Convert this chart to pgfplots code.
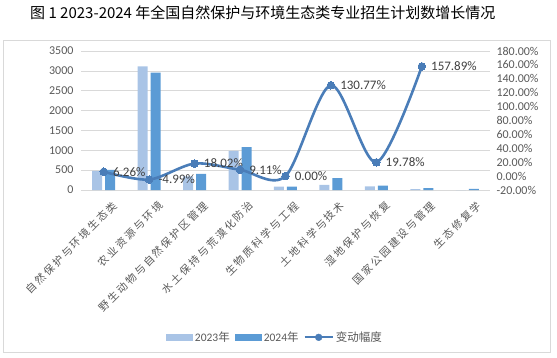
\documentclass[border=0pt]{standalone}
\usepackage{pgfplots}
\pgfplotsset{compat=1.18}
\usepackage{fontspec}
\setmainfont{Carlito}
\newfontfamily\cjk{Noto Sans CJK SC}
\newfontfamily\cjksp{Noto Sans CJK SC}[LetterSpace=20]
\definecolor{c23}{HTML}{A9C4E6}
\definecolor{c24}{HTML}{5B9BD5}
\definecolor{cl}{HTML}{4A7DB8}
\definecolor{tk}{HTML}{595959}
\definecolor{grd}{HTML}{D9D9D9}
\begin{document}
\begin{tikzpicture}
\useasboundingbox (0pt,0pt) rectangle (557pt,357pt);
\draw[color=grd, line width=0.8pt] (3pt,5pt) rectangle (550pt,317pt);
\node[anchor=west, inner sep=0pt, font=\cjk\fontsize{15}{18}\selectfont] at (30pt,344pt) {图 1 2023-2024 年全国自然保护与环境生态类专业招生计划数增长情况};

\begin{axis}[at={(81pt,167pt)}, anchor=south west, scale only axis, width=409pt, height=139pt,
 xmin=-0.5, xmax=8.5, ymin=0, ymax=3500, ytick={0,500,...,3500},
 ybar=3pt, bar width=10pt,
 axis y line*=left, axis x line*=bottom,
 y axis line style={draw=none}, x axis line style={draw=grd, line width=0.8pt},
 ymajorgrids, grid style={grd, line width=0.6pt},
 major tick length=0pt,
 xtick={0,...,8},
 xticklabels={自然保护与环境生态类,农业资源与环境,野生动物与自然保护区管理,水土保持与荒漠化防治,生物质科学与工程,土地科学与技术,湿地保护与恢复,国家公园建设与管理,生态修复学},
 x tick label style={xshift=8pt, yshift=-10pt, rotate=45, anchor=north east, font=\cjksp\fontsize{10.5}{12}\selectfont, text=tk, inner sep=0pt},
 yticklabel style={font=\fontsize{12}{14}\selectfont, text=tk, xshift=-4pt},
 /pgf/number format/assume math mode=true,
 /pgf/number format/1000 sep={},
 legend style={at={(0.474,-1.06)}, anchor=center, legend columns=3, draw=none, font=\fontsize{11.5}{13}\selectfont, text=tk,
   /tikz/every even column/.append style={column sep=3pt}},
]
\addplot[fill=c23, draw=none, area legend, legend image code/.code={\fill[c23] (0pt,-3.5pt) rectangle (27pt,3.5pt);}] coordinates {(0,479) (1,3110) (2,344) (3,988) (4,85) (5,130) (6,91) (7,19) (8,0)};
\addlegendentry{2023{\cjk 年}}
\addplot[fill=c24, draw=none, area legend, legend image code/.code={\fill[c24] (0pt,-3.5pt) rectangle (27pt,3.5pt);}] coordinates {(0,509) (1,2955) (2,406) (3,1078) (4,85) (5,300) (6,109) (7,49) (8,28)};
\addlegendentry{2024{\cjk 年}}
\addlegendimage{legend image code/.code={\draw[cl, line width=2.2pt] (0pt,0pt) -- (28pt,0pt); \fill[cl] (14pt,0pt) circle (3.4pt);}}
\addlegendentry{{\cjk 变动幅度}}
\end{axis}

\begin{axis}[at={(81pt,167pt)}, anchor=south west, scale only axis, width=409pt, height=139pt,
 xmin=-0.5, xmax=8.5, ymin=-20, ymax=180, ytick={-20,0,...,180},
 axis y line*=right, axis x line=none, y axis line style={draw=none},
 major tick length=0pt,
 yticklabel={\pgfmathprintnumber[fixed,fixed zerofill,precision=2]{\tick}\%},
 yticklabel style={font=\fontsize{12}{14}\selectfont, text=tk, xshift=3pt},
 /pgf/number format/assume math mode=true,
 clip=false,
]
\addplot[cl, line width=2.6pt, smooth, tension=0.5, mark=*, mark size=3.8pt, mark options={fill=cl, draw=cl, line width=0pt},
  nodes near coords={\pgfmathprintnumber[fixed,fixed zerofill,precision=2]{\pgfplotspointmeta}\%},
  every node near coord/.append style={anchor=west, xshift=6pt, yshift=0pt, text=black!75, font=\fontsize{13}{15}\selectfont},
  /pgf/number format/assume math mode=true]
 coordinates {(0,6.26) (1,-4.99) (2,18.02) (3,9.11) (4,0.00) (5,130.77) (6,19.78) (7,157.89)};
\end{axis}
\end{tikzpicture}
\end{document}
